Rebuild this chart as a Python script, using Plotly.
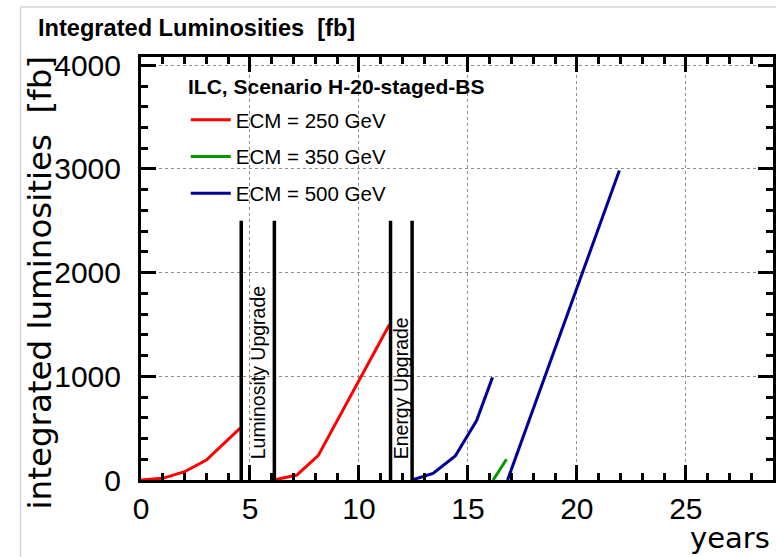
import plotly.graph_objects as go

# ---------------- data ----------------
years_250 = [0, 1, 2, 3, 4.55, None, 6.1, 7.15, 8.13, 11.4]
lumi_250 = [0, 16, 80, 193, 500, None, 0, 48, 235, 1500]

years_350 = [16.16, 16.77]
lumi_350 = [0, 200]

years_500 = [12.44, 13.4, 14.42, 15.4, 16.13, None, 16.82, 21.95]
lumi_500 = [0, 64, 231, 573, 990, None, 0, 2985]

upgrade_years = [4.6, 6.12, 11.45, 12.44]
upgrade_top = 2500
upgrade_labels = ["Luminosity Upgrade", "Energy Upgrade"]

series_names = ["ECM = 250 GeV", "ECM = 350 GeV", "ECM = 500 GeV"]
series_colors = ["#ff0000", "#009900", "#000099"]
legend_title = "ILC, Scenario H-20-staged-BS"

# ---------------- geometry (px) ----------------
W, H = 776, 557
L, R, T, B = 141, 0, 57, 77
PW = W - L - R
PH = H - T - B


def px_x(x):
    return (x - L) / PW


def px_y(y):
    return (H - B - y) / PH


FONT = "Liberation Sans, Arial, sans-serif"
WIDE = "DejaVu Sans, Liberation Sans, sans-serif"

fig = go.Figure()
for xs, ys, name, col in zip([years_250, years_350, years_500],
                             [lumi_250, lumi_350, lumi_500],
                             series_names, series_colors):
    fig.add_trace(go.Scatter(x=xs, y=ys, mode="lines", name=name,
                             legendgroup=name,
                             line=dict(color=col, width=3),
                             connectgaps=False))

# white legend background (above grid, below traces)
fig.add_shape(type="rect", xref="paper", yref="paper",
              x0=px_x(180), x1=px_x(413), y0=px_y(212), y1=px_y(68),
              fillcolor="white", line=dict(width=0), layer="between")

# upgrade markers
for xv in upgrade_years:
    fig.add_shape(type="line", xref="x", yref="y", x0=xv, x1=xv,
                  y0=0, y1=upgrade_top, line=dict(color="black", width=3.5),
                  layer="above")
for i, lab in enumerate(upgrade_labels):
    xm = (upgrade_years[2 * i] + upgrade_years[2 * i + 1]) / 2
    fig.add_annotation(x=xm, y=0, xref="x", yref="y", text=lab,
                       textangle=-90, showarrow=False, xanchor="center",
                       yanchor="bottom", yshift=19,
                       font=dict(family=FONT, size=19.5, color="black"))

# canvas frame
fig.add_shape(type="line", xref="paper", yref="paper", x0=px_x(20), x1=px_x(20),
              y0=px_y(H + 5), y1=px_y(7), line=dict(color="#d4d4d4", width=1.5))
fig.add_shape(type="line", xref="paper", yref="paper", x0=px_x(20), x1=px_x(W + 5),
              y0=px_y(7), y1=px_y(7), line=dict(color="#d4d4d4", width=1.5))

# titles
fig.add_annotation(xref="paper", yref="paper", x=px_x(35), y=px_y(28),
                   xanchor="left", yanchor="middle", showarrow=False,
                   text="<b>Integrated Luminosities\u00a0 [fb]</b>",
                   font=dict(family=FONT, size=23.6, color="black"))
fig.add_annotation(xref="paper", yref="paper", x=px_x(40), y=px_y(53),
                   xanchor="center", yanchor="top", showarrow=False,
                   textangle=-90, text="integrated luminosities\u00a0 [fb]",
                   font=dict(family=WIDE, size=32.5, color="black"))
fig.add_annotation(xref="paper", yref="paper", x=px_x(775), y=px_y(557),
                   xanchor="right", yanchor="bottom", showarrow=False,
                   text="years", font=dict(family=WIDE, size=29, color="black"))
fig.add_annotation(xref="paper", yref="paper", x=px_x(186), y=px_y(86),
                   xanchor="left", yanchor="middle", showarrow=False,
                   text="<b>" + legend_title + "</b>",
                   font=dict(family=FONT, size=21, color="black"))

axis_common = dict(
    showline=True, linecolor="black", linewidth=3, mirror="ticks",
    ticks="inside", ticklen=15, tickwidth=2.5, tickcolor="black",
    showgrid=True, gridcolor="#8c8c8c", griddash="dot", gridwidth=1,
    zeroline=False, tickfont=dict(family=FONT, size=30, color="black"),
)

fig.update_xaxes(range=[0, 29], tick0=0, dtick=5,
                 minor=dict(dtick=1, ticks="inside", ticklen=7, tickwidth=2.5,
                            tickcolor="black", showgrid=False),
                 ticklabelstandoff=0, **axis_common)
fig.update_yaxes(range=[0, 4080], tick0=0, dtick=1000,
                 minor=dict(dtick=200, ticks="inside", ticklen=7, tickwidth=2.5,
                            tickcolor="black", showgrid=False),
                 ticklabelstandoff=11, **axis_common)

fig.update_layout(
    width=W, height=H,
    margin=dict(l=L, r=R, t=T, b=B, pad=0),
    paper_bgcolor="white", plot_bgcolor="white",
    showlegend=True,
    legend=dict(
        x=px_x(186), y=px_y(100), xanchor="left", yanchor="top",
        bgcolor="rgba(0,0,0,0)", borderwidth=0,
        font=dict(family=FONT, size=20.5, color="black"),
        traceorder="grouped", tracegroupgap=7, itemwidth=40,
    ),
)

fig.write_html("out.html")
